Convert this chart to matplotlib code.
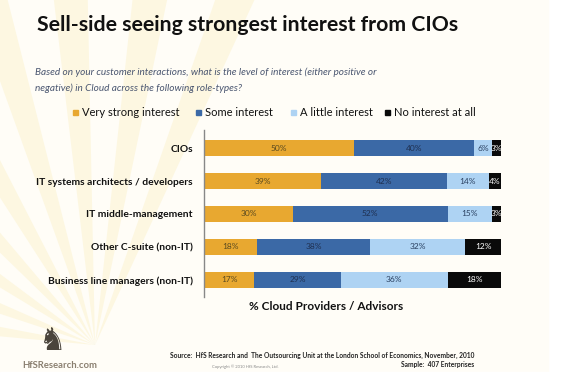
import matplotlib
matplotlib.use("Agg")
import matplotlib.pyplot as plt
import numpy as np
from matplotlib.patches import Rectangle, Wedge

plt.rcParams['font.family'] = ['Lato', 'DejaVu Sans']

# data
roles = ['CIOs', 'IT systems architects / developers', 'IT middle-management',
         'Other C-suite (non-IT)', 'Business line managers (non-IT)']
series = ['Very strong interest', 'Some interest', 'A little interest', 'No interest at all']
very_strong = [50, 39, 30, 18, 17]
some = [40, 42, 52, 38, 29]
little = [6, 14, 15, 32, 36]
none_at_all = [3, 4, 3, 12, 18]

colors = ['#E8A830', '#3B69A6', '#AED3F3', '#0A0A0A']
label_colors = ['#5a4a20', '#1f3050', '#2a4060', '#ffffff']

W, H = 566, 390
fig = plt.figure(figsize=(W / 100, H / 100), dpi=100)
fig.patch.set_facecolor('white')

# faint sunburst in the background (y axis points down here)
bg = fig.add_axes([0, 0, 1, 1], zorder=-10)
bg.set_xlim(0, W)
bg.set_ylim(H, 0)
bg.axis('off')
bg.add_patch(Rectangle((0, 0), 548, 372, color='#fffdf7', zorder=0))
cx, cy = 95, 345
for a in range(188, 300, 13):
    bg.add_patch(Wedge((cx, cy), 450, a - 2.8, a + 2.8, color='#fbefc0', alpha=0.4, lw=0))
bg.add_patch(Rectangle((0, 372), W, H - 372, color='white', zorder=5))

ax = fig.add_axes([204 / W, 1 - 297 / H, 297 / W, 167 / H])
ax.patch.set_alpha(0)

data = np.array([very_strong, some, little, none_at_all], dtype=float)
totals = data.sum(axis=0)
shares = data / totals * 100
y = np.arange(len(roles))
left = np.zeros(len(roles))
for i, name in enumerate(series):
    ax.barh(y, shares[i], left=left, height=0.5, color=colors[i], label=name)
    for j in range(len(roles)):
        ax.text(left[j] + shares[i][j] / 2, y[j], f'{int(data[i][j])}%',
                ha='center', va='center', fontsize=6, color=label_colors[i])
    left += shares[i]

ax.set_xlim(0, 100)
ax.set_ylim(4.52, -0.55)
ax.set_yticks(y)
ax.set_yticklabels(roles, fontsize=7.4, fontweight='bold', color='#111111')
ax.tick_params(axis='y', length=0, pad=8)
ax.set_xticks([])
for s in ['top', 'right', 'bottom']:
    ax.spines[s].set_visible(False)
ax.spines['left'].set_color('#888888')
ax.spines['left'].set_linewidth(1)

# legend
leg_x = [73, 196, 291, 385]
for i, name in enumerate(series):
    bg.add_patch(Rectangle((leg_x[i], 110), 5, 5, color=colors[i], zorder=3))
    bg.text(leg_x[i] + 9, 113, name, fontsize=8, va='center', ha='left', color='#111111', zorder=3)

bg.text(248, 25, 'Sell-side seeing strongest interest from CIOs', fontsize=15.3,
        fontweight='bold', ha='center', va='center', color='#111111', zorder=3)
bg.text(35, 72, 'Based on your customer interactions, what is the level of interest (either positive or',
        fontsize=7.2, style='italic', color='#4a5670', va='center', zorder=3)
bg.text(35, 88, 'negative) in Cloud across the following role-types?',
        fontsize=7.2, style='italic', color='#4a5670', va='center', zorder=3)

bg.text(326, 307, '% Cloud Providers / Advisors', fontsize=8.5, fontweight='bold',
        ha='center', va='center', color='#111111', zorder=3)
bg.text(474, 355, 'Source:  HfS Research and  The Outsourcing Unit at the London School of Economics, November, 2010',
        fontsize=4.8, fontweight='bold', ha='right', va='center', color='#222222', zorder=3)
bg.text(474, 365, 'Sample:  407 Enterprises', fontsize=4.8, fontweight='bold',
        ha='right', va='center', color='#222222', zorder=3)
bg.text(212, 367, 'Copyright \u00a9 2010 HfS Research, Ltd.', fontsize=3, ha='left',
        va='center', color='#888888', zorder=3)
bg.text(52, 341, '\u265e', fontsize=22, ha='center', va='center', color='#4a443c',
        family='DejaVu Sans', zorder=3)
bg.text(22, 366, 'HfSResearch.com', fontsize=6.8, fontweight='bold', ha='left',
        va='center', color='#8a7f70', zorder=6)

fig.savefig('out.png', dpi=100)
